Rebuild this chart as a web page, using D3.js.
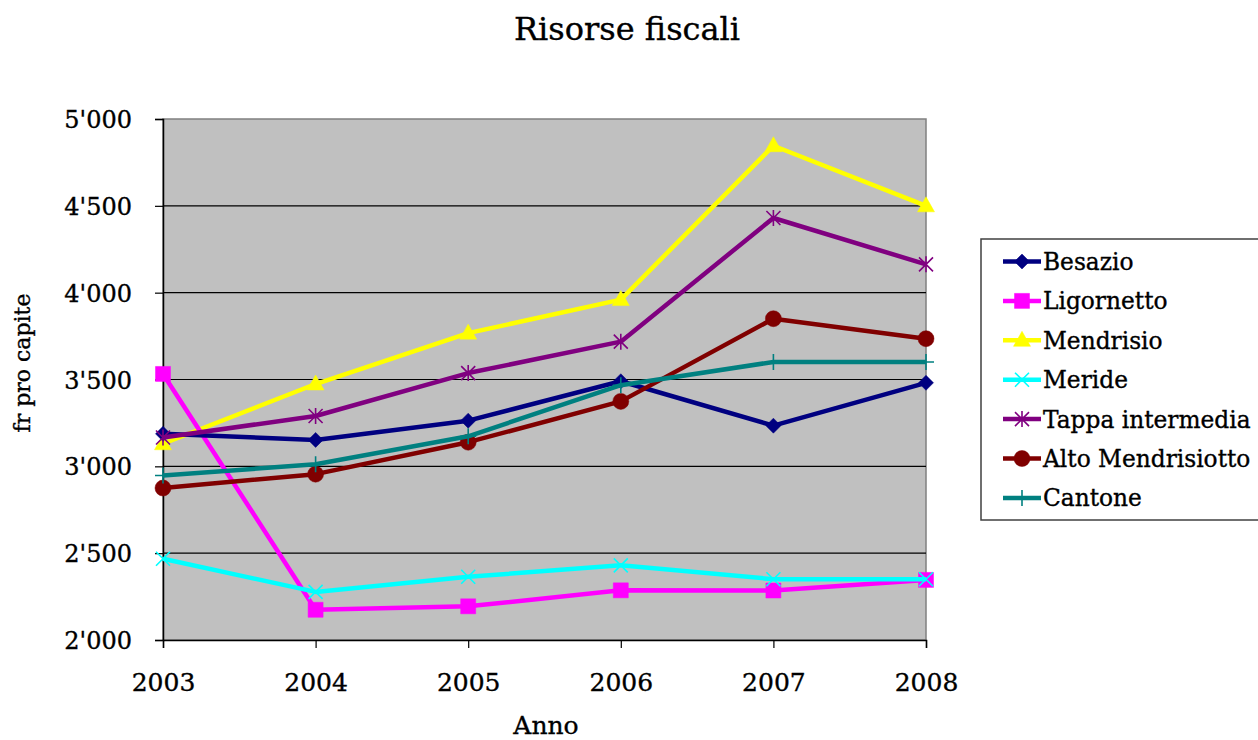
<!DOCTYPE html>
<html lang="it">
<head>
<meta charset="UTF-8">
<title>Risorse fiscali</title>
<style>
  body { margin: 0; background: #fff; }
  text { font-family: "DejaVu Serif", serif; fill: #000; stroke: #000; stroke-width: 0.35px; }
</style>
</head>
<body>
<script src="https://d3js.org/d3.v7.min.js"></script>
<script>
// dati
var anni = [2003, 2004, 2005, 2006, 2007, 2008];
var besazio = [3187, 3152, 3263, 3490, 3234, 3481];
var ligornetto = [3532, 2174, 2194, 2286, 2285, 2346];
var mendrisio = [3130, 3474, 3767, 3960, 4846, 4500];
var meride = [2468, 2277, 2364, 2430, 2350, 2350];
var tappa = [3166, 3290, 3537, 3718, 4430, 4163];
var alto = [2875, 2955, 3139, 3374, 3850, 3735];
var cantone = [2947, 3012, 3173, 3467, 3601, 3601];
var yTicks = [2000, 2500, 3000, 3500, 4000, 4500, 5000];

var serie = [
  {nome: "Besazio", valori: besazio, colore: "#000080", marker: "diamond"},
  {nome: "Ligornetto", valori: ligornetto, colore: "#ff00ff", marker: "square"},
  {nome: "Mendrisio", valori: mendrisio, colore: "#ffff00", marker: "triangle"},
  {nome: "Meride", valori: meride, colore: "#00ffff", marker: "x"},
  {nome: "Tappa intermedia", valori: tappa, colore: "#800080", marker: "star"},
  {nome: "Alto Mendrisiotto", valori: alto, colore: "#800000", marker: "circle"},
  {nome: "Cantone", valori: cantone, colore: "#008080", marker: "plus"}
];
// ordine di disegno
var ordine = [2, 1, 0, 3, 4, 5, 6];

var W = 1258, H = 740;
var svg = d3.select("body").append("svg").attr("width", W).attr("height", H);

var x = d3.scalePoint().domain(anni).range([163, 926]);
var y = d3.scaleLinear().domain([2000, 5000]).range([640, 119]);

// area del grafico
svg.append("rect")
  .attr("x", 163).attr("y", 119)
  .attr("width", 926 - 163).attr("height", 640 - 119)
  .attr("fill", "#c0c0c0")
  .attr("stroke", "#808080").attr("stroke-width", 1.5);

// griglia
svg.selectAll(".grid").data(yTicks.slice(1, -1)).enter().append("line")
  .attr("x1", 163).attr("x2", 926)
  .attr("y1", function(d){ return y(d); })
  .attr("y2", function(d){ return y(d); })
  .attr("stroke", "#000").attr("stroke-width", 1.2);

// assi
var fmt = function(d){ return d3.format(",")(d).replace(",", "'"); };

var yAxis = svg.append("g").attr("transform", "translate(163,0)")
  .call(d3.axisLeft(y).tickValues(yTicks).tickSize(8).tickPadding(23).tickFormat(fmt));
var xAxis = svg.append("g").attr("transform", "translate(0,640)")
  .call(d3.axisBottom(x).tickSize(8).tickPadding(25).tickFormat(d3.format("d")));

[yAxis, xAxis].forEach(function(a){
  a.select(".domain").attr("stroke", "#000").attr("stroke-width", 1.5);
  a.selectAll(".tick line").attr("stroke", "#000").attr("stroke-width", 1.2);
  a.selectAll("text").attr("font-family", "DejaVu Serif").attr("fill", "#000");
});
yAxis.selectAll("text").attr("font-size", 24).attr("dy", "0.36em");
xAxis.selectAll("text").attr("font-size", 25).attr("dy", "0.72em");

// titoli
svg.append("text").attr("x", 627).attr("y", 40)
  .attr("text-anchor", "middle").attr("font-size", 32)
  .text("Risorse fiscali");
svg.append("text").attr("x", 546).attr("y", 734)
  .attr("text-anchor", "middle").attr("font-size", 25)
  .text("Anno");
svg.append("text")
  .attr("transform", "translate(30,363) rotate(-90)")
  .attr("text-anchor", "middle").attr("font-size", 22)
  .text("fr pro capite");

// marker
function markerPath(tipo) {
  switch (tipo) {
    case "diamond": return "M0,-7.5L7.5,0L0,7.5L-7.5,0Z";
    case "square": return "M-7.5,-7.5H7.5V7.5H-7.5Z";
    case "triangle": return "M0,-9L8.5,6H-8.5Z";
    case "circle": return "M8,0A8,8 0 1,1 -8,0A8,8 0 1,1 8,0Z";
    case "x": return "M-7,-7L7,7M7,-7L-7,7";
    case "star": return "M-7,-7L7,7M7,-7L-7,7M0,-8V8";
    case "plus": return "M-8,0H8M0,-8V8";
  }
}
function disegnaMarker(g, s, cx, cy) {
  var filled = ["diamond", "square", "triangle", "circle"].indexOf(s.marker) >= 0;
  g.append("path")
    .attr("transform", "translate(" + cx + "," + cy + ")")
    .attr("d", markerPath(s.marker))
    .attr("fill", filled ? s.colore : "none")
    .attr("stroke", s.colore)
    .attr("stroke-width", filled ? 0.5 : 1.6);
}

var linea = d3.line()
  .x(function(d, i){ return x(anni[i]); })
  .y(function(d){ return y(d); });

ordine.forEach(function(k){
  var s = serie[k];
  var g = svg.append("g");
  g.append("path")
    .attr("d", linea(s.valori))
    .attr("fill", "none")
    .attr("stroke", s.colore)
    .attr("stroke-width", 4.5)
    .attr("stroke-linejoin", "round");
  s.valori.forEach(function(v, i){
    disegnaMarker(g, s, x(anni[i]), y(v));
  });
});

// legenda
var leg = svg.append("g");
leg.append("rect")
  .attr("x", 981).attr("y", 239)
  .attr("width", 290).attr("height", 281)
  .attr("fill", "#fff")
  .attr("stroke", "#404040").attr("stroke-width", 1.5);

serie.forEach(function(s, i){
  var cy = 261.5 + i * 39.4;
  var g = leg.append("g");
  g.append("line")
    .attr("x1", 1003).attr("x2", 1041)
    .attr("y1", cy).attr("y2", cy)
    .attr("stroke", s.colore).attr("stroke-width", 4.5);
  disegnaMarker(g, s, 1022, cy);
  g.append("text")
    .attr("x", 1043).attr("y", cy + 8.5)
    .attr("font-size", 23.3)
    .text(s.nome);
});
</script>
</body>
</html>
